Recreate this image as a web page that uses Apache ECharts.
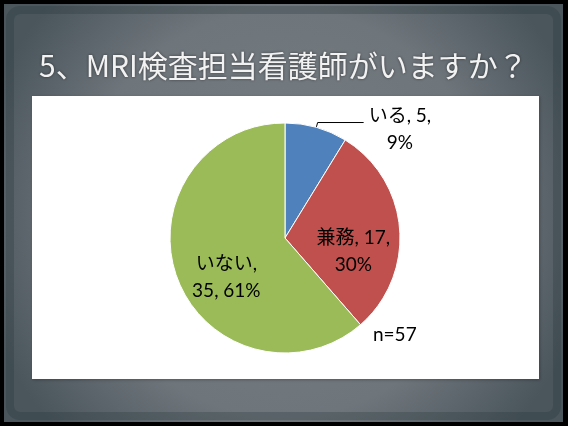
<!DOCTYPE html>
<html>
<head>
<meta charset="utf-8">
<script src="https://cdn.jsdelivr.net/npm/echarts@6/dist/echarts.min.js"></script>
<style>
  html, body { margin: 0; padding: 0; background: #000; }
  #chart { width: 568px; height: 426px; }
</style>
</head>
<body>
<div id="chart"></div>
<script>
// データ
var titleText = '5、MRI検査担当看護師がいますか？';
var categories = ['いる', '兼務', 'いない'];
var counts = [5, 17, 35];
var sliceColors = ['#4F81BD', '#C0504D', '#9BBB59'];
var totalLabel = 'n=57';

var total = counts.reduce(function (a, b) { return a + b; }, 0);

// ラベル位置の微調整（Excel風）
var labelShift = [
  { dx: 0, dy: 0 },
  { dx: 8, dy: 18 },
  { dx: -2, dy: 18 }
];

var labelFont = "Lato, 'Noto Sans CJK JP', sans-serif";

var pieData = categories.map(function (name, i) {
  var item = {
    name: name,
    value: counts[i],
    itemStyle: { color: sliceColors[i] }
  };
  if (i === 0) {
    item.label = {
      position: 'outside',
      padding: [14, 0, 0, 0]
    };
    item.labelLine = { show: true, length: 5, length2: 46 };
  } else {
    item.label = { position: 'inside' };
    item.labelLine = { show: false };
  }
  return item;
});

var chart = echarts.init(document.getElementById('chart'));

chart.setOption({
  backgroundColor: '#000',
  animation: false,
  title: {
    text: titleText,
    left: 34,
    top: 46,
    textStyle: {
      color: '#f2f2f2',
      fontSize: 30,
      fontWeight: 'normal',
      fontFamily: "'Noto Sans CJK JP', sans-serif",
      textShadowColor: 'rgba(0,0,0,0.5)',
      textShadowBlur: 3
    }
  },
  graphic: [
    {
      type: 'rect', z: -10, silent: true,
      shape: { x: 4, y: 4, width: 559, height: 418 },
      style: {
        fill: {
          type: 'radial', x: 0.5, y: 0.5, r: 0.75,
          colorStops: [
            { offset: 0, color: '#767d83' },
            { offset: 0.65, color: '#6e757b' },
            { offset: 1, color: '#4a555c' }
          ]
        }
      }
    },
    {
      type: 'rect', z: -9, silent: true,
      shape: { x: 10, y: 10, width: 547, height: 406, r: 10 },
      style: { fill: 'none', stroke: 'rgba(40,55,60,0.3)', lineWidth: 8 }
    },
    {
      type: 'rect', z: -8, silent: true,
      shape: { x: 32, y: 96, width: 507, height: 283 },
      style: { fill: '#fff', shadowColor: 'rgba(0,0,0,0.25)', shadowBlur: 3, shadowOffsetX: 1, shadowOffsetY: 1 }
    },
    {
      type: 'text', z: 10,
      left: 373, top: 325,
      style: {
        text: totalLabel,
        fill: '#000',
        fontSize: 19,
        fontFamily: labelFont
      }
    }
  ],
  series: [{
    type: 'pie',
    center: [285, 238],
    radius: [0, 115],
    startAngle: 90,
    clockwise: true,
    avoidLabelOverlap: false,
    itemStyle: { borderColor: '#fff', borderWidth: 1 },
    emphasis: { disabled: true },
    label: {
      show: true,
      color: '#000',
      fontSize: 19,
      lineHeight: 27,
      fontFamily: labelFont,
      formatter: function (p) {
        var pct = Math.round(p.value / total * 100);
        if (p.dataIndex === 2) {
          return '{c|' + p.name + ',}\n{c|' + p.value + ', ' + pct + '%}';
        }
        return '{c|' + p.name + ', ' + p.value + ',}\n{c|' + pct + '%}';
      },
      rich: {
        c: {
          align: 'center',
          fontSize: 19,
          lineHeight: 27,
          color: '#000',
          fontFamily: labelFont
        }
      }
    },
    labelLine: {
      lineStyle: { color: '#000', width: 1 }
    },
    labelLayout: function (params) {
      if (params.dataIndex === 0) return {};
      var s = labelShift[params.dataIndex];
      return { dx: s.dx, dy: s.dy };
    },
    data: pieData
  }]
});
</script>
</body>
</html>
